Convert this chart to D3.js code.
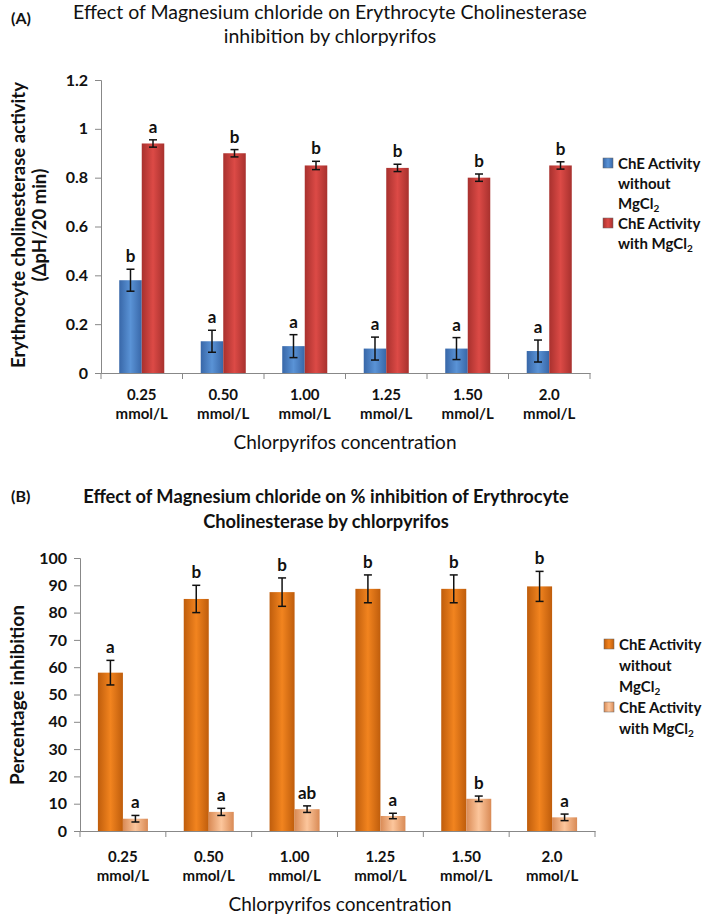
<!DOCTYPE html>
<html><head><meta charset="utf-8">
<script src="https://cdn.jsdelivr.net/npm/d3@7"></script>
<style>
body{margin:0;background:#fff;}
svg text{font-family:Lato,"Open Sans",sans-serif;font-weight:bold;fill:#111;}
</style></head>
<body><svg id="c" width="709" height="916"></svg>
<script>
const categories = ["0.25","0.50","1.00","1.25","1.50","2.0"];
const unitLabel = "mmol/L";
const seriesNames = ["ChE Activity without MgCl2","ChE Activity with MgCl2"];

const activityWithout = [0.38,0.13,0.11,0.10,0.10,0.09];
const activityWithoutErr = [0.045,0.045,0.047,0.047,0.045,0.045];
const activityWithoutLetters = ["b","a","a","a","a","a"];
const activityWith = [0.94,0.90,0.85,0.84,0.80,0.85];
const activityWithErr = [0.015,0.015,0.017,0.015,0.015,0.015];
const activityWithLetters = ["a","b","b","b","b","b"];
const activityTicks = [0,0.2,0.4,0.6,0.8,1,1.2];

const inhibWithout = [58,85,87.5,88.7,88.7,89.6];
const inhibWithoutErr = [4.5,5,5.2,5.1,5.1,5.5];
const inhibWithoutLetters = ["a","b","b","b","b","b"];
const inhibWith = [4.5,7,8,5.5,11.8,5];
const inhibWithErr = [1.2,1.3,1.2,1,1,1.2];
const inhibWithLetters = ["a","a","ab","a","b","a"];
const inhibTicks = [0,10,20,30,40,50,60,70,80,90,100];

const svg = d3.select("#c");
const defs = svg.append("defs");
function grad(id, edge, mid){
  const g = defs.append("linearGradient").attr("id",id).attr("x1","0").attr("x2","1").attr("y1","0").attr("y2","0");
  g.append("stop").attr("offset","0").attr("stop-color",edge);
  g.append("stop").attr("offset","0.5").attr("stop-color",mid);
  g.append("stop").attr("offset","1").attr("stop-color",edge);
}
grad("gBlue","#3867a8","#5a93d6");
grad("gRed","#a8312e","#dc4a46");
grad("gOrange","#bf5d0c","#f2841f");
grad("gLight","#d98a55","#fcc69c");

function panel(o){
  const g = svg.append("g");
  const x0 = d3.scaleBand().domain(categories).range([o.xl,o.xr]).padding(0);
  const x1 = d3.scaleBand().domain([0,1]).range([0,x0.bandwidth()]).paddingInner(0).paddingOuter(o.pOut);
  const y = d3.scaleLinear().domain([0,o.ymax]).range([o.yb,o.yt]);
  const ya = d3.axisLeft(y).tickValues(o.ticks).tickSize(6).tickPadding(7).tickFormat(o.fmt);
  const yg = g.append("g").attr("transform",`translate(${o.xl},0)`).call(ya);
  yg.select(".domain").attr("stroke","#888");
  yg.selectAll(".tick line").attr("stroke","#888");
  yg.selectAll(".tick text").style("font-size","16px");
  const xa = d3.axisBottom(x0).tickSize(0).tickFormat("");
  const xg = g.append("g").attr("transform",`translate(0,${o.yb})`).call(xa);
  xg.select(".domain").attr("stroke","#888");
  const bounds = categories.map(c=>x0(c)).concat([o.xr]);
  g.selectAll(".bt").data(bounds).join("line").attr("x1",d=>d).attr("x2",d=>d)
    .attr("y1",o.yb).attr("y2",o.yb+6).attr("stroke","#888");
  g.selectAll(".xl1").data(categories).join("text")
    .attr("text-anchor","middle").style("font-size","15px")
    .attr("x",d=>x0(d)+x0.bandwidth()/2).attr("y",o.yb+o.lab1).text(d=>d);
  g.selectAll(".xl2").data(categories).join("text")
    .attr("text-anchor","middle").style("font-size","15px")
    .attr("x",d=>x0(d)+x0.bandwidth()/2).attr("y",o.yb+o.lab2).text(unitLabel);
  const series = [
    {v:o.s0, e:o.e0, l:o.l0, fill:o.f0},
    {v:o.s1, e:o.e1, l:o.l1, fill:o.f1}
  ];
  series.forEach((s,si)=>{
    const sg = g.append("g");
    categories.forEach((c,i)=>{
      const bx = x0(c)+x1(si), bw = x1.bandwidth();
      sg.append("rect").attr("x",bx).attr("y",y(s.v[i])).attr("width",bw)
        .attr("height",y(0)-y(s.v[i])).attr("fill",`url(#${s.fill})`);
      const cx = bx+bw/2;
      const t = y(s.v[i]+s.e[i]), b = y(s.v[i]-s.e[i]);
      sg.append("line").attr("x1",cx).attr("x2",cx).attr("y1",t).attr("y2",b).attr("stroke","#111").attr("stroke-width",1.5);
      sg.append("line").attr("x1",cx-4).attr("x2",cx+4).attr("y1",t).attr("y2",t).attr("stroke","#111").attr("stroke-width",1.5);
      sg.append("line").attr("x1",cx-4).attr("x2",cx+4).attr("y1",b).attr("y2",b).attr("stroke","#111").attr("stroke-width",1.5);
      sg.append("text").attr("x",cx).attr("y",t-7).attr("text-anchor","middle").style("font-size","17px").text(s.l[i]);
    });
  });
  o.title.forEach((line,i)=>g.append("text").attr("text-anchor","middle")
    .style("font-size",o.tfs).style("font-weight",o.tfw)
    .attr("x",o.tx).attr("y",o.ty+i*o.tlh).text(line));
  g.append("text").attr("x",o.px).attr("y",o.py).style("font-size","16px").text(o.panelLabel);
  g.append("text").attr("x",o.xtx).attr("y",o.xty).attr("text-anchor","middle").style("font-size","19px").style("font-weight","normal").text("Chlorpyrifos concentration");
  o.ytitle.forEach((line,i)=>{
    g.append("text").attr("transform",`translate(${o.ytx+i*21},${o.yty}) rotate(-90)`)
      .attr("text-anchor","middle").style("font-size",o.yfs).text(line);
  });
  const lgItems = [{f:o.f0, lines:["ChE Activity","without","MgCl"]},{f:o.f1, lines:["ChE Activity","with MgCl"]}];
  let ly = o.ly;
  lgItems.forEach(it=>{
    g.append("rect").attr("x",o.lx).attr("y",ly-11).attr("width",10).attr("height",10).attr("fill",`url(#${it.f})`).attr("stroke","#666").attr("stroke-width",0.5);
    it.lines.forEach((ln,j)=>{
      const t = g.append("text").attr("x",o.lx+15).attr("y",ly).style("font-size","15px").text(ln);
      if(ln.endsWith("MgCl")) t.append("tspan").attr("dy",3).style("font-size","10px").text("2");
      ly += o.lsp;
    });
  });
}

panel({
  xl:101, xr:590, yb:373, yt:80, ymax:1.2, ticks:activityTicks, fmt:d3.format("~g"),
  pOut:0.81, lab1:27, lab2:46,
  s0:activityWithout, e0:activityWithoutErr, l0:activityWithoutLetters, f0:"gBlue",
  s1:activityWith, e1:activityWithErr, l1:activityWithLetters, f1:"gRed",
  title:["Effect of Magnesium chloride on Erythrocyte Cholinesterase","inhibition by chlorpyrifos"],
  tfs:"19.5px", tfw:"normal",
  tx:330, ty:19, tlh:24, px:11, py:24, panelLabel:"(A)",
  xtx:345, xty:449, ytitle:["Erythrocyte cholinesterase activity","(ΔpH/20 min)"], ytx:25, yty:225, yfs:"18.5px",
  lx:603, ly:169, lsp:20
});
panel({
  xl:80, xr:595, yb:831, yt:558, ymax:100, ticks:inhibTicks, fmt:d3.format("d"),
  pOut:0.716, lab1:31, lab2:50,
  s0:inhibWithout, e0:inhibWithoutErr, l0:inhibWithoutLetters, f0:"gOrange",
  s1:inhibWith, e1:inhibWithErr, l1:inhibWithLetters, f1:"gLight",
  title:["Effect of Magnesium chloride on % inhibition of Erythrocyte","Cholinesterase by chlorpyrifos"],
  tfs:"18.3px", tfw:"bold",
  tx:326, ty:503, tlh:25, px:11, py:502, panelLabel:"(B)",
  xtx:340, xty:911, ytitle:["Percentage inhibition"], ytx:24, yty:695, yfs:"19px",
  lx:604, ly:650, lsp:21
});
</script></body></html>
